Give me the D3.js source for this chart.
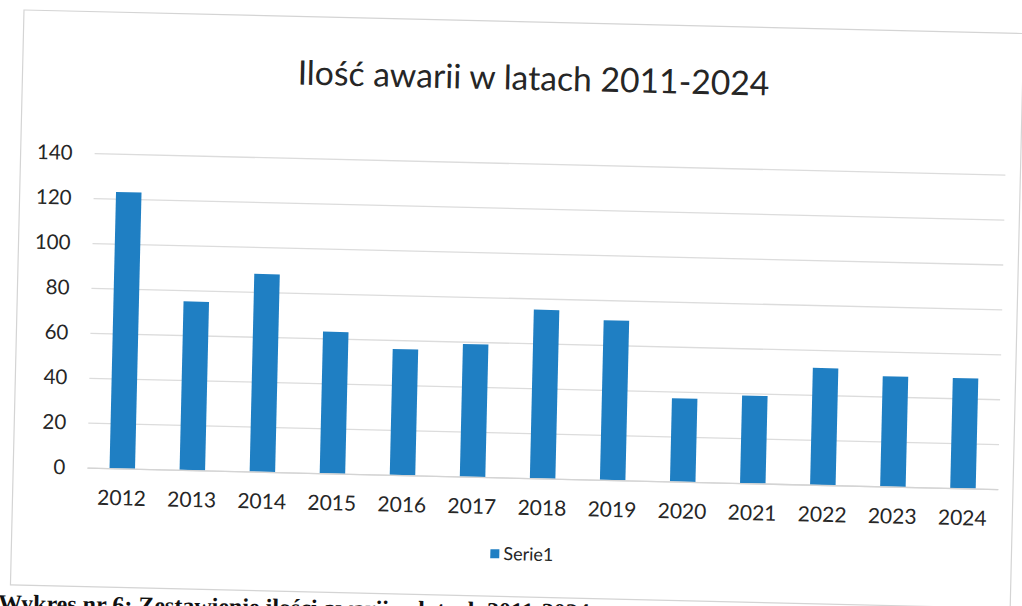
<!DOCTYPE html>
<html>
<head>
<meta charset="utf-8">
<script src="https://cdn.jsdelivr.net/npm/d3@7"></script>
<style>
  html, body { margin: 0; padding: 0; background: #ffffff; }
  svg { display: block; }
</style>
</head>
<body>
<svg id="chart" width="1022" height="606"></svg>
<script>
// ---- data ----
const categories = ["2012","2013","2014","2015","2016","2017","2018","2019","2020","2021","2022","2023","2024"];
const seriesName = "Serie1";
const values = [123, 75, 88, 63, 56, 59, 75, 71, 37, 39, 52, 49, 49];
const yTicks = [0, 20, 40, 60, 80, 100, 120, 140];
const titleText = "Ilość awarii w latach 2011-2024";
const captionText = "Wykres nr 6: Zestawienie ilości awarii w latach 2011-2024";

// ---- layout ----
const svg = d3.select("#chart");
const angle = 1.35;
const frameW = 1000, frameH = 575;
const plot = { left: 74, right: 985, top: 141.5, bottom: 456 };
const barColor = "#1f7fc3";
const textColor = "#262626";
const font = "Lato, 'Open Sans', sans-serif";

// scanned page caption (under the chart, mostly cut off by the page edge)
svg.append("text")
  .attr("x", -2).attr("y", 611)
  .attr("transform", "rotate(0.9, 0, 608)")
  .attr("font-family", "'Liberation Serif', serif")
  .attr("font-weight", "bold")
  .attr("font-size", 24)
  .attr("fill", "#111")
  .text(captionText);

const g = svg.append("g").attr("transform", `translate(24,10) rotate(${angle})`);

// chart frame
g.append("rect")
  .attr("x", 0).attr("y", 0).attr("width", frameW).attr("height", frameH)
  .attr("fill", "#ffffff").attr("stroke", "#d4d4d4").attr("stroke-width", 1.2);

const x = d3.scaleBand().domain(categories).range([plot.left, plot.right]).paddingInner(0.636).paddingOuter(0.318);
const y = d3.scaleLinear().domain([0, 140]).range([plot.bottom, plot.top]);

// gridlines
const yAxis = d3.axisLeft(y).tickValues(yTicks).tickSize(-(plot.right - plot.left)).tickPadding(22);
const ya = g.append("g").attr("transform", `translate(${plot.left},0)`).call(yAxis);
ya.select(".domain").remove();
ya.selectAll(".tick line").attr("stroke", "#dcdcdc").attr("stroke-width", 1.3);
ya.selectAll(".tick text")
  .attr("font-family", font).attr("font-size", 20.5).attr("fill", textColor);

// bars
g.append("g").selectAll("rect").data(values).join("rect")
  .attr("x", (d, i) => x(categories[i]))
  .attr("y", d => y(d))
  .attr("width", x.bandwidth())
  .attr("height", d => y(0) - y(d))
  .attr("fill", barColor);

// x axis
const xAxis = d3.axisBottom(x).tickSize(0).tickPadding(22);
const xa = g.append("g").attr("transform", `translate(0,${plot.bottom})`).call(xAxis);
xa.select(".domain").attr("stroke", "#d4d4d4").attr("stroke-width", 1.3);
xa.selectAll(".tick text")
  .attr("font-family", font).attr("font-size", 21).attr("fill", textColor);

// title
const title = g.append("text")
  .attr("x", 511).attr("y", 68)
  .attr("text-anchor", "middle")
  .attr("font-family", font).attr("font-size", 30).attr("fill", textColor)
  .text(titleText);
const tw = title.node().getComputedTextLength();
title.attr("font-size", 30 * 472 / tw);

// legend
const leg = g.append("g").attr("transform", "translate(479,528)");
leg.append("rect").attr("x", 0).attr("y", 0).attr("width", 9).attr("height", 9).attr("fill", barColor);
leg.append("text").attr("x", 13).attr("y", 10.5)
  .attr("font-family", font).attr("font-size", 18).attr("fill", textColor)
  .text(seriesName);
</script>
</body>
</html>
